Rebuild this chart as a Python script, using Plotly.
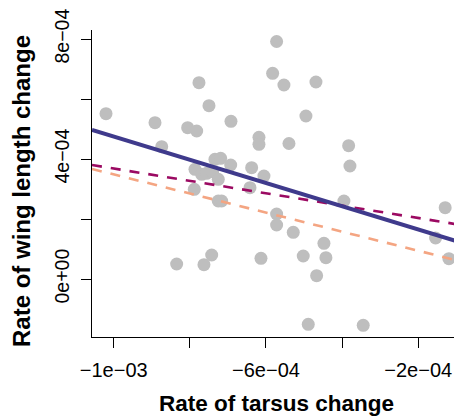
import plotly.graph_objects as go

# Data
tarsus = [-1.0202e-3, -8.915e-4, -8.739e-4, -8.057e-4, -7.82e-4, -7.76e-4, -7.497e-4, -6.919e-4,
          -6.184e-4, -6.184e-4, -5.72e-4, -5.825e-4, -5.528e-4, -4.687e-4, -4.95e-4, -5.396e-4,
          -3.828e-4, -3.794e-4, -7.34e-4, -7.19e-4, -6.927e-4, -6.376e-4, -7.865e-4, -7.689e-4,
          -7.558e-4, -7.4e-4, -7.253e-4, -6.053e-4, -7.883e-4, -6.42e-4, -7.253e-4, -7.164e-4,
          -5.72e-4, -5.72e-4, -5.283e-4, -4.477e-4, -5.021e-4, -4.425e-4, -4.669e-4, -4.889e-4,
          -3.445e-4, -3.952e-4, -1.292e-4, -1.544e-4, -1.194e-4, -8.346e-4, -7.629e-4, -7.426e-4,
          -6.131e-4]
wing = [5.51e-4, 5.21e-4, 4.41e-4, 5.043e-4, 4.933e-4, 6.543e-4, 5.777e-4, 5.257e-4,
        4.723e-4, 4.49e-4, 7.917e-4, 6.857e-4, 6.467e-4, 6.567e-4, 5.433e-4, 4.517e-4,
        4.443e-4, 3.767e-4, 3.99e-4, 4.023e-4, 3.8e-4, 3.71e-4, 3.657e-4, 3.49e-4,
        3.523e-4, 3.577e-4, 3.323e-4, 3.433e-4, 2.99e-4, 3.043e-4, 2.6e-4, 2.6e-4,
        2.167e-4, 1.8e-4, 1.557e-4, 1.19e-4, 7.67e-5, 7.1e-5, 1.1e-5, -1.51e-4,
        -1.543e-4, 2.6e-4, 2.377e-4, 1.367e-4, 6.77e-5, 5e-5, 4.77e-5, 8e-5,
        6.9e-5]

# regression lines: value at each end of the x range
fit_x = [-1.057e-3, -0.64e-4]
fit_solid = [4.967e-4, 1.123e-4]
fit_purple = [3.8e-4, 1.753e-4]
fit_salmon = [3.667e-4, 0.51e-4]

x_ticks = [-1e-3, -8e-4, -6e-4, -4e-4, -2e-4]
x_labels = ["\u22121e\u221203", "", "\u22126e\u221204", "", "\u22122e\u221204"]
y_ticks = [0, 2e-4, 4e-4, 6e-4, 8e-4]
y_labels = ["0e+00", "", "4e\u221204", "", "8e\u221204"]

FONT = "Liberation Sans, Arial, Helvetica, sans-serif"

fig = go.Figure()
fig.add_trace(go.Scatter(x=tarsus, y=wing, mode="markers",
                         marker=dict(size=13, color="#BEBEBE", line=dict(width=0)),
                         hoverinfo="skip"))
fig.add_trace(go.Scatter(x=fit_x, y=fit_salmon, mode="lines",
                         line=dict(color="#F4A582", width=2.6, dash="10px,9px")))
fig.add_trace(go.Scatter(x=fit_x, y=fit_purple, mode="lines",
                         line=dict(color="#9B0A62", width=2.6, dash="10px,9px")))
fig.add_trace(go.Scatter(x=fit_x, y=fit_solid, mode="lines",
                         line=dict(color="#3F3A8C", width=4)))

fig.update_layout(
    width=462, height=408,
    margin=dict(l=84, r=0, t=22, b=79, autoexpand=False),
    paper_bgcolor="white", plot_bgcolor="white",
    showlegend=False,
    font=dict(family=FONT, color="black"),
    xaxis=dict(range=[-1.057e-3, -0.64e-4], tickvals=x_ticks, ticktext=x_labels,
               showline=True, linecolor="black", linewidth=1, automargin=False,
               ticks="outside", ticklen=10, tickcolor="black", tickwidth=1,
               showgrid=False, zeroline=False,
               tickfont=dict(size=20, family=FONT), ticklabelstandoff=5),
    yaxis=dict(range=[-1.933e-4, 8.3e-4], tickvals=y_ticks, ticktext=y_labels,
               showline=True, linecolor="black", linewidth=1, automargin=False,
               ticks="outside", ticklen=10, tickcolor="black", tickwidth=1,
               showgrid=False, zeroline=False, tickangle=-90,
               tickfont=dict(size=19.5, family=FONT), ticklabelstandoff=4),
    annotations=[
        dict(text="<b>Rate of tarsus change</b>", xref="paper", yref="paper",
             x=0.4894, y=0, yshift=-66, xanchor="center", yanchor="middle", showarrow=False,
             font=dict(size=22.5, family=FONT)),
        dict(text="<b>Rate of wing length change</b>", xref="paper", yref="paper",
             x=0, xshift=-70, y=0.4756, xanchor="center", yanchor="middle", showarrow=False,
             textangle=-90, font=dict(size=24, family=FONT)),
    ],
)

fig.write_html("out.html")
